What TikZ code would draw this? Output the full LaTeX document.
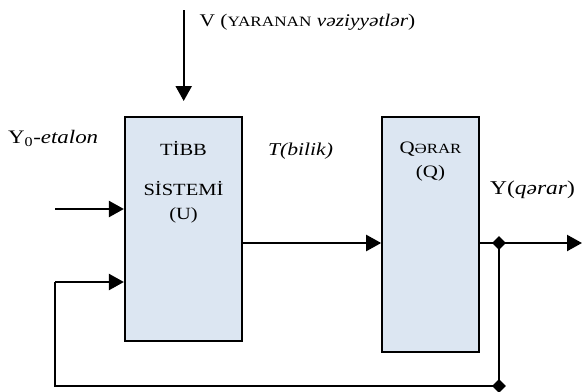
\documentclass[tikz,border=0pt]{standalone}
\usepackage{fontspec}
\setmainfont{Liberation Serif}[FakeStretch=1.2]
\usetikzlibrary{positioning, shapes.geometric, arrows.meta, calc}
\usepackage{xcolor}
\definecolor{boxblue}{HTML}{DCE6F2}
\newcommand{\bigtxt}{\fontsize{16.7}{18}\selectfont}
\newcommand{\midtxt}{\fontsize{14.6}{16}\selectfont}
\newcommand{\smalltxt}{\fontsize{12}{14}\selectfont}

\begin{document}
\begin{tikzpicture}[x=0.03cm, y=-0.03cm, line width=1.9pt, font=\midtxt,
    block/.style={draw, line width=1.4pt, fill=boxblue, inner sep=0pt},
    junction/.style={diamond, fill=black, inner sep=0pt, minimum size=0.44cm},
    txt/.style={inner sep=0pt},
    flow/.style={-{Triangle[length=0.45cm, width=0.48cm]}}]
  \useasboundingbox (0,0) rectangle (582,392);
  % blocks
  \node[block, minimum width=3.52cm, minimum height=6.72cm] (tibb) at (183.4,229) {};
  \node[block, minimum width=2.91cm, minimum height=7.05cm] (qerar) at (430.5,234.5) {};
  \node[txt, anchor=base] (tibbname) at (183.5,155) {TİBB};
  \node[txt, anchor=base] (sistemi) at (183.5,195) {SİSTEMİ};
  \node[txt, anchor=base] (u) at (183.5,219) {(U)};
  \node[txt, anchor=base, font=\fontsize{14.9}{16}\selectfont] (qname) at (430.5,153) {Q{\smalltxt ƏRAR}};
  \node[txt, anchor=base, font=\fontsize{14.9}{16}\selectfont] (q) at (430.5,177) {(Q)};
  % labels
  \node[txt, anchor=base west, font=\fontsize{15.2}{17}\selectfont] (vlabel) at (198.6,26)
    {V ({\fontsize{12.2}{14}\selectfont YARANAN} \textit{vəziyyətlər})};
  \node[txt, anchor=base west, font=\fontsize{16.3}{18}\selectfont] (y0) at (7,143) {Y\textsubscript{0}-\textit{etalon}};
  \node[txt, anchor=base west, font=\fontsize{15.4}{17}\selectfont\itshape] (tbilik) at (267,155) {T(bilik)};
  \node[txt, anchor=base west, font=\bigtxt] (yout) at (489,194) {Y(\textit{qərar})};
  % connectors
  \coordinate (vtop) at (183.7,10);
  \coordinate (vtip) at (183.7,101);
  \coordinate (in1) at (55,209);
  \coordinate (in2) at (55,282);
  \coordinate (corner) at (55,386);
  \coordinate (out) at (582,243);
  \node[junction] (jout) at (499,243) {};
  \node[junction] (jbot) at (499,386) {};
  \draw[flow] (vtop) -- (vtip);
  \draw[flow] (in1) -- (in1 -| tibb.west);
  \draw[flow] (tibb.east |- jout) -- (qerar.west |- jout);
  \draw (qerar.east |- jout) -- (jout.center);
  \draw[flow] (jout.center) -- (out);
  \draw (jout.center) -- (jbot.center) -- (corner) -- (in2);
  \draw[flow] (in2) -- (in2 -| tibb.west);
\end{tikzpicture}
\end{document}
